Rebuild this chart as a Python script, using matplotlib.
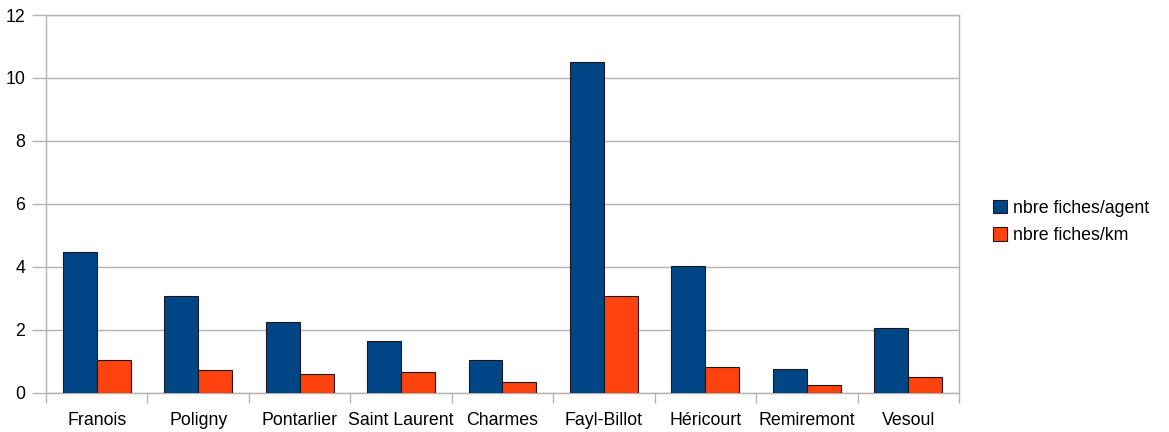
import matplotlib
matplotlib.use("Agg")
import matplotlib.pyplot as plt
import numpy as np
from matplotlib.ticker import FixedLocator

plt.rcParams['font.family'] = ['Liberation Sans', 'DejaVu Sans']

categories = ["Franois", "Poligny", "Pontarlier", "Saint Laurent", "Charmes",
              "Fayl-Billot", "Héricourt", "Remiremont", "Vesoul"]
fiches_agent = [4.46, 3.06, 2.24, 1.63, 1.04, 10.50, 4.03, 0.76, 2.07]
fiches_km = [1.04, 0.72, 0.60, 0.66, 0.33, 3.06, 0.83, 0.24, 0.49]
series_names = ["nbre fiches/agent", "nbre fiches/km"]
y_ticks = [0, 2, 4, 6, 8, 10, 12]

FS = 12.8

fig = plt.figure(figsize=(11.69, 4.32), dpi=100)
ax = fig.add_axes([46/1169, 1-392.7/432, (959-46)/1169, (392.7-15)/432])

x = np.arange(len(categories))
w = 0.335
grid_c = "#b3b3b3"
b1 = ax.bar(x - w/2, fiches_agent, w, color="#004586", edgecolor="#1a1a1a", linewidth=0.8, zorder=3,
            label=series_names[0])
b2 = ax.bar(x + w/2, fiches_km, w, color="#ff420e", edgecolor="#1a1a1a", linewidth=0.8, zorder=3,
            label=series_names[1])

ax.set_xlim(-0.5, len(categories) - 0.5)
ax.set_ylim(0, 12)
ax.set_yticks(y_ticks)
ax.yaxis.grid(True, color=grid_c, linewidth=1, zorder=0)
ax.set_axisbelow(True)

ax.set_xticks(x)
ax.set_xticklabels(categories, fontsize=FS)
ax.xaxis.set_minor_locator(FixedLocator(np.arange(-0.5, len(categories), 1.0)))
ax.tick_params(axis='x', which='major', length=0, pad=14)
ax.tick_params(axis='x', which='minor', length=7, color=grid_c, width=1)
ax.tick_params(axis='y', which='major', length=10, color=grid_c, width=1, labelsize=FS, pad=5)

for s in ax.spines.values():
    s.set_color(grid_c)
    s.set_linewidth(1)

fig.legend(handles=[b1, b2], labels=series_names, loc='center left',
           bbox_to_anchor=(977/1169, 1-222/432), frameon=False, fontsize=FS,
           handlelength=0.8, handleheight=0.8, handletextpad=0.35, labelspacing=0.6)

fig.savefig("out.png", dpi=100)
